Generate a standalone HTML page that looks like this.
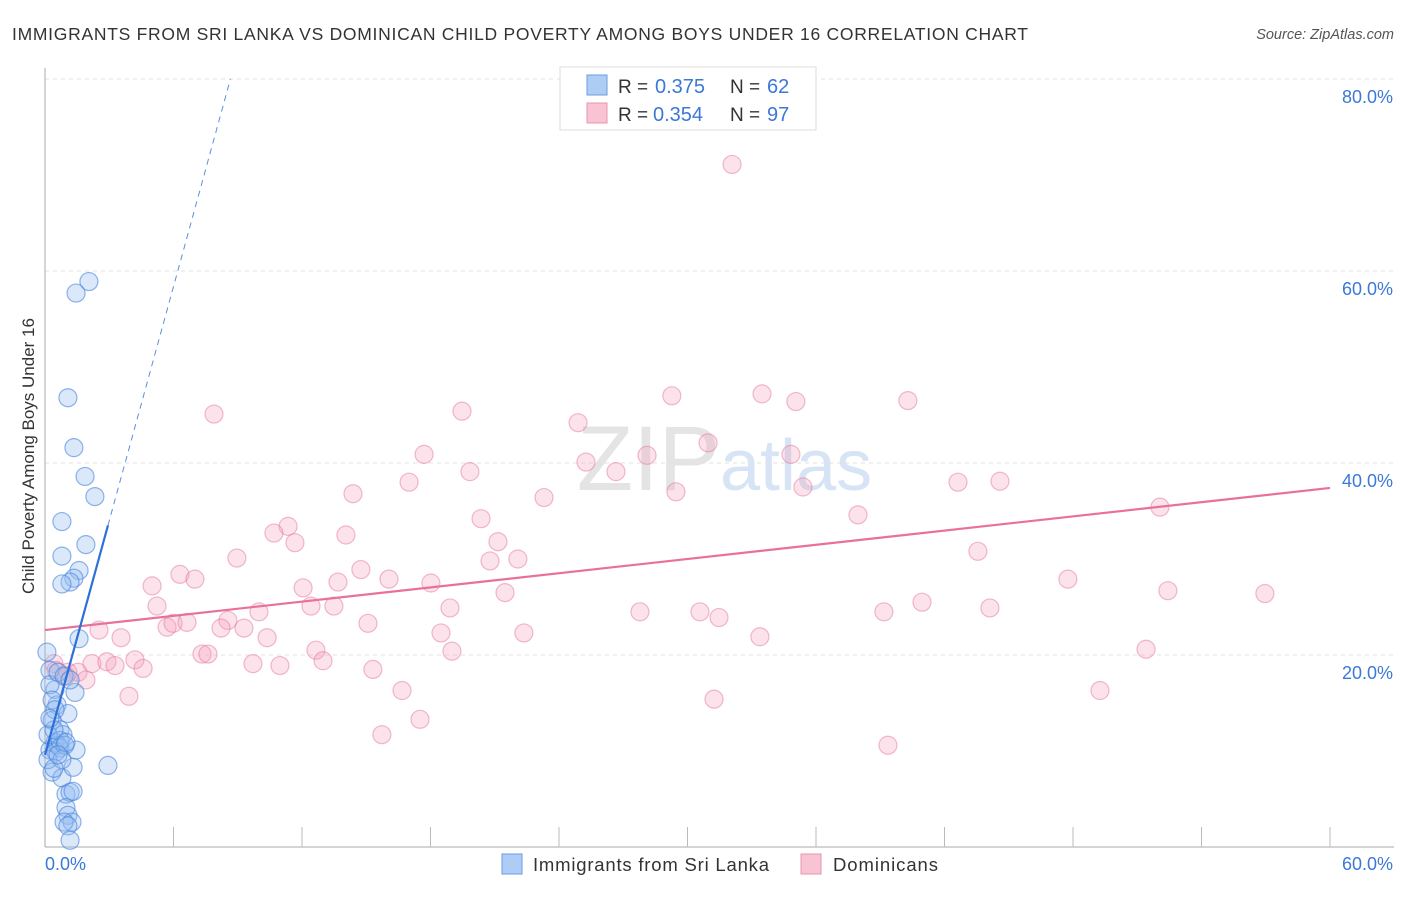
<!DOCTYPE html>
<html><head><meta charset="utf-8"><style>
body{margin:0;background:#fff;font-family:"Liberation Sans",sans-serif;}
svg text{font-family:"Liberation Sans",sans-serif;}
</style></head><body>
<svg id="chart" width="1406" height="892">
<text x="12" y="40" font-size="17.5" fill="#333" textLength="1016" lengthAdjust="spacing">IMMIGRANTS FROM SRI LANKA VS DOMINICAN CHILD POVERTY AMONG BOYS UNDER 16 CORRELATION CHART</text>
<text x="1394" y="39" font-size="14.5" fill="#555" font-style="italic" text-anchor="end">Source: ZipAtlas.com</text>
<text x="720" y="490" font-size="92" fill="#e4e4e4" text-anchor="end" font-family="Liberation Serif">ZIP</text>
<text x="720" y="490" font-size="72" fill="#d6e4f5">atlas</text>
<g id="grid"></g>
<g id="axes"></g>
<g id="pts"></g>
<g id="lines"></g>
<text transform="translate(34,456) rotate(-90)" font-size="17" fill="#333" text-anchor="middle">Child Poverty Among Boys Under 16</text>
<g>
<rect x="560" y="67" width="256" height="63" fill="#fff" stroke="#ddd"/>
<rect x="587" y="75" width="20" height="20" fill="#aecdf5" stroke="#6a9de0"/>
<rect x="587" y="103" width="20" height="20" fill="#f8c3d3" stroke="#e896ae"/>
<text x="618" y="93" font-size="19" fill="#333">R =</text>
<text x="655" y="93" font-size="20" fill="#3b78d8">0.375</text>
<text x="730" y="93" font-size="19" fill="#333">N =</text>
<text x="767" y="93" font-size="20" fill="#3b78d8">62</text>
<text x="618" y="121" font-size="19" fill="#333">R =</text>
<text x="653" y="121" font-size="20" fill="#3b78d8">0.354</text>
<text x="730" y="121" font-size="19" fill="#333">N =</text>
<text x="767" y="121" font-size="20" fill="#3b78d8">97</text>
</g>
<g>
<rect x="502" y="854" width="20" height="20" fill="#aecdf5" stroke="#6a9de0"/>
<text x="533" y="871" font-size="18.5" fill="#333" textLength="236">Immigrants from Sri Lanka</text>
<rect x="801" y="854" width="20" height="20" fill="#f8c3d3" stroke="#e896ae"/>
<text x="833" y="871" font-size="18.5" fill="#333" textLength="105">Dominicans</text>
</g>
</svg>
<script>
const blueX=[2.05,1.45,1.07,1.35,1.87,2.33,0.79,1.91,0.79,1.59,1.35,1.17,0.79,1.59,1.40,0.09,0.23,0.47,0.56,1.07,0.33,0.70,0.84,0.47,0.61,0.23,0.70,1.45,0.33,0.79,1.31,2.94,0.98,1.17,1.31,0.98,1.07,1.26,0.89,1.07,1.17,0.23,0.33,0.47,0.14,0.51,0.70,0.93,0.42,0.61,0.89,1.17,0.23,0.14,0.79,0.42,0.98,0.61];
const blueY=[58.9,57.7,46.8,41.6,38.6,36.5,33.9,31.5,30.3,28.8,28.0,27.6,27.4,21.7,16.1,20.3,18.4,16.4,14.8,13.9,13.2,12.2,11.7,10.9,10.6,10.1,10.3,10.1,7.8,7.2,8.3,8.5,5.5,5.7,5.8,4.1,3.3,2.6,2.6,2.2,0.7,16.9,15.3,14.3,11.7,9.9,11.1,10.6,12.2,18.2,17.8,17.4,13.4,9.1,9.1,8.2,10.9,9.6];
const pinkX=[32.08,7.89,19.47,29.27,33.48,35.06,40.29,24.89,30.96,17.70,25.26,28.11,34.83,19.84,26.66,17.00,29.46,35.39,14.38,23.30,42.63,44.59,20.36,37.96,52.06,11.35,10.69,11.67,14.05,21.15,20.78,22.08,8.96,43.56,6.30,5.00,7.00,14.75,12.05,13.68,16.06,18.02,47.76,52.43,56.96,5.23,9.99,12.42,13.49,18.91,21.48,27.78,30.58,31.47,39.17,40.95,44.12,2.52,3.55,5.70,5.98,6.63,8.54,8.22,9.29,10.37,15.08,18.49,22.36,33.38,7.33,7.61,12.65,12.98,19.00,51.41,0.42,0.51,1.07,1.54,2.19,2.89,3.27,4.20,4.58,9.71,10.97,15.31,1.91,0.98,3.92,16.67,17.51,31.24,49.26,15.73,39.36];
const pinkY=[71.1,45.1,45.4,47.0,47.2,46.4,46.5,44.2,42.1,40.9,40.1,40.8,40.9,39.1,39.1,38.0,37.0,37.5,36.8,36.4,38.0,38.1,34.2,34.6,35.4,33.4,32.7,31.7,32.5,31.8,29.8,30.0,30.1,30.8,28.4,27.2,27.9,28.9,27.0,27.6,27.9,27.5,27.9,26.7,26.4,25.1,24.5,25.1,25.1,24.9,26.5,24.5,24.5,23.9,24.5,25.5,24.9,22.6,21.8,22.9,23.3,23.4,23.6,22.8,22.8,21.8,23.3,22.3,22.3,21.9,20.1,20.1,20.5,19.4,20.4,20.6,19.1,18.4,18.2,18.2,19.1,19.3,18.9,19.5,18.6,19.1,18.9,18.5,17.4,17.8,15.7,16.3,13.3,15.4,16.3,11.7,10.6];
const yTicks=[20,40,60,80];
const xTickCount=10;
const blueTrend=[9.6,8.13];
const pinkTrend=[22.6,37.4];
const NS="http://www.w3.org/2000/svg";
const X=v=>45+v/60*1285, Y=v=>847-v*9.6;
function mk(tag,attrs,parent){const e=document.createElementNS(NS,tag);for(const k in attrs)e.setAttribute(k,attrs[k]);parent.appendChild(e);return e;}
const grid=document.getElementById('grid'),axes=document.getElementById('axes'),pts=document.getElementById('pts'),lines=document.getElementById('lines');
yTicks.forEach(t=>{
 const l=mk('line',{x1:45,x2:1394,y1:Y(t),y2:Y(t),stroke:'#e2e2e2','stroke-dasharray':'4 4'},grid);
 
 
 const tx=mk('text',{x:1393,y:Y(t)+24,'font-size':18,fill:'#3b78d8','text-anchor':'end'},axes);
 tx.textContent=t.toFixed(1)+'%';
 
 
});
mk('line',{x1:45,x2:45,y1:68,y2:847,stroke:'#aaa'},axes);
mk('line',{x1:45,x2:1394,y1:847,y2:847,stroke:'#aaa'},axes);
for(let i=1;i<=xTickCount;i++){const x=X(i*6);const t=mk('line',{x1:x,x2:x,y1:827,y2:847,stroke:'#bbb'},axes);
 
 }
const x0=mk('text',{x:45,y:870,'font-size':18,fill:'#3b78d8'},axes);x0.textContent='0.0%';


const x1=mk('text',{x:1393,y:870,'font-size':18,fill:'#3b78d8','text-anchor':'end'},axes);x1.textContent='60.0%';


pinkX.forEach((v,i)=>{const c=mk('circle',{cx:X(v),cy:Y(pinkY[i]),r:9,fill:'rgba(244,160,185,0.3)',stroke:'rgba(228,120,155,0.5)','stroke-width':1.2},pts);
 
 });
blueX.forEach((v,i)=>{const c=mk('circle',{cx:X(v),cy:Y(blueY[i]),r:9,fill:'rgba(150,190,240,0.35)',stroke:'rgba(70,130,220,0.6)','stroke-width':1.2},pts);
 
 });
const pl=mk('line',{x1:X(0),y1:Y(pinkTrend[0]),x2:X(60),y2:Y(pinkTrend[1]),stroke:'#e8719a','stroke-width':2.2},lines);


const bxEnd=Math.max(...blueX), bx80=(80-blueTrend[0])/blueTrend[1];
const bl=mk('line',{x1:X(0),y1:Y(blueTrend[0]),x2:X(bxEnd),y2:Y(blueTrend[0]+blueTrend[1]*bxEnd),stroke:'#2f6fd8','stroke-width':2.2},lines);


const bd=mk('line',{x1:X(bxEnd),y1:Y(blueTrend[0]+blueTrend[1]*bxEnd),x2:X(bx80),y2:Y(80),stroke:'#5a8fe0','stroke-width':1,'stroke-dasharray':'6 5'},lines);


</script>
</body></html>
